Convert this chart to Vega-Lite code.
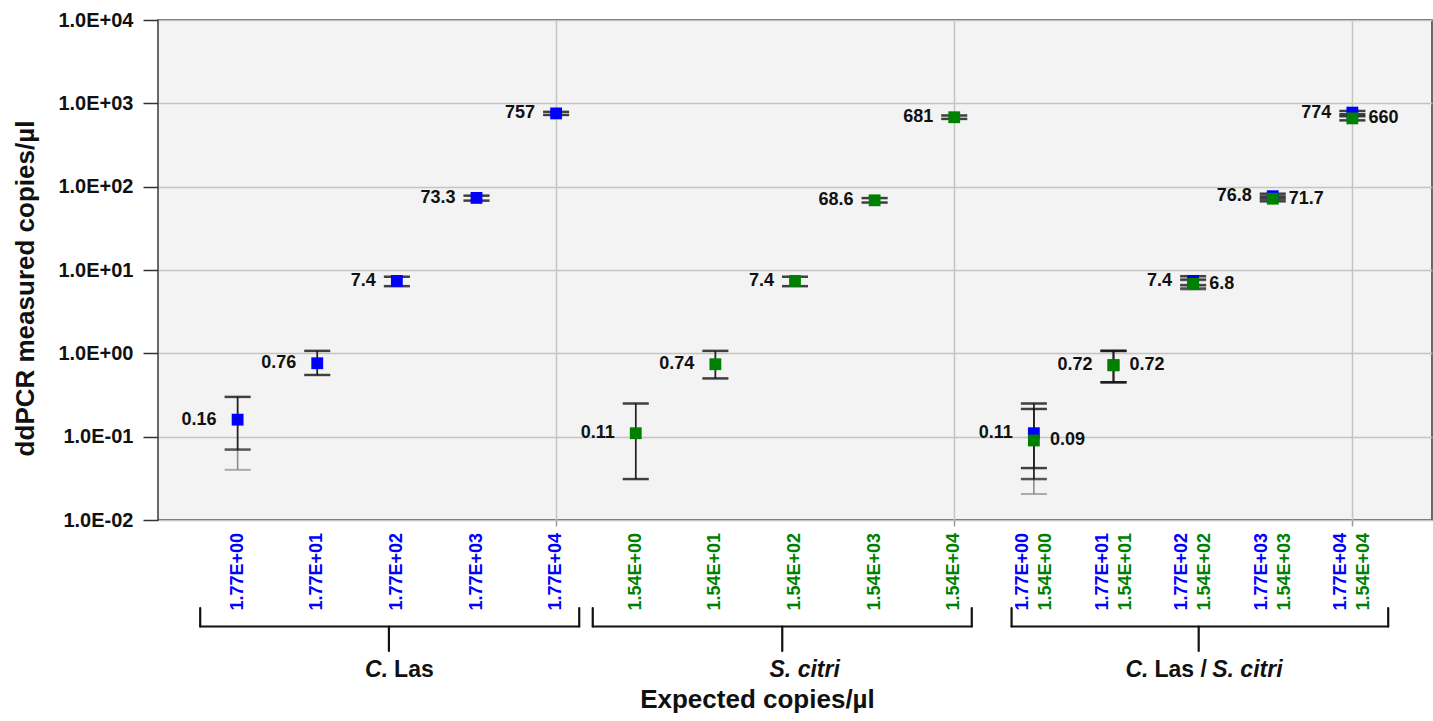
{
  "$schema": "https://vega.github.io/schema/vega-lite/v6.json",
  "autosize": {"type": "none"},
  "padding": {"left": 158, "top": 20, "right": 1, "bottom": 201},
  "background": "white",
  "width": 1274,
  "height": 500,
  "config": {"font": "Liberation Sans"},
  "view": {"fill": "#f3f3f3", "stroke": "#3a3a3a", "strokeWidth": 1.5},
  "datasets": {
    "measures": [
      {"x": 1, "target": "C. Las", "group": "C. Las", "value": 0.16, "lo": 0.07, "hi": 0.30, "tlo": 0.04, "thi": 0.30},
      {"x": 2, "target": "C. Las", "group": "C. Las", "value": 0.76, "lo": 0.55, "hi": 1.07, "tlo": 0.55, "thi": 1.07},
      {"x": 3, "target": "C. Las", "group": "C. Las", "value": 7.4, "lo": 6.4, "hi": 8.3, "tlo": 6.4, "thi": 8.3},
      {"x": 4, "target": "C. Las", "group": "C. Las", "value": 73.3, "lo": 68, "hi": 78, "tlo": 68, "thi": 78},
      {"x": 5, "target": "C. Las", "group": "C. Las", "value": 757, "lo": 725, "hi": 790, "tlo": 725, "thi": 790},
      {"x": 11, "target": "C. Las", "group": "mix", "value": 0.11, "lo": 0.042, "hi": 0.25, "tlo": 0.042, "thi": 0.25},
      {"x": 12, "target": "C. Las", "group": "mix", "value": 0.72, "lo": 0.45, "hi": 1.07, "tlo": 0.45, "thi": 1.07},
      {"x": 13, "target": "C. Las", "group": "mix", "value": 7.4, "lo": 6.6, "hi": 8.4, "tlo": 6.5, "thi": 8.5},
      {"x": 14, "target": "C. Las", "group": "mix", "value": 76.8, "lo": 72, "hi": 82, "tlo": 71, "thi": 83},
      {"x": 15, "target": "C. Las", "group": "mix", "value": 774, "lo": 740, "hi": 810, "tlo": 740, "thi": 810},
      {"x": 6, "target": "S. citri", "group": "S. citri", "value": 0.11, "lo": 0.031, "hi": 0.25, "tlo": 0.031, "thi": 0.25},
      {"x": 7, "target": "S. citri", "group": "S. citri", "value": 0.74, "lo": 0.50, "hi": 1.07, "tlo": 0.50, "thi": 1.07},
      {"x": 8, "target": "S. citri", "group": "S. citri", "value": 7.4, "lo": 6.4, "hi": 8.3, "tlo": 6.4, "thi": 8.3},
      {"x": 9, "target": "S. citri", "group": "S. citri", "value": 68.6, "lo": 64.5, "hi": 73, "tlo": 64.5, "thi": 73},
      {"x": 10, "target": "S. citri", "group": "S. citri", "value": 681, "lo": 650, "hi": 715, "tlo": 650, "thi": 715},
      {"x": 11, "target": "S. citri", "group": "mix", "value": 0.09, "lo": 0.031, "hi": 0.215, "tlo": 0.0205, "thi": 0.215},
      {"x": 12, "target": "S. citri", "group": "mix", "value": 0.72, "lo": 0.45, "hi": 1.07, "tlo": 0.45, "thi": 1.07},
      {"x": 13, "target": "S. citri", "group": "mix", "value": 6.8, "lo": 6.0, "hi": 7.6, "tlo": 5.8, "thi": 7.8},
      {"x": 14, "target": "S. citri", "group": "mix", "value": 71.7, "lo": 67, "hi": 76, "tlo": 66, "thi": 77},
      {"x": 15, "target": "S. citri", "group": "mix", "value": 660, "lo": 625, "hi": 700, "tlo": 625, "thi": 700}
    ],
    "inputs": [
      {"x": 1, "target": "C. Las", "group": "C. Las", "label": "1.77E+00"},
      {"x": 2, "target": "C. Las", "group": "C. Las", "label": "1.77E+01"},
      {"x": 3, "target": "C. Las", "group": "C. Las", "label": "1.77E+02"},
      {"x": 4, "target": "C. Las", "group": "C. Las", "label": "1.77E+03"},
      {"x": 5, "target": "C. Las", "group": "C. Las", "label": "1.77E+04"},
      {"x": 6, "target": "S. citri", "group": "S. citri", "label": "1.54E+00"},
      {"x": 7, "target": "S. citri", "group": "S. citri", "label": "1.54E+01"},
      {"x": 8, "target": "S. citri", "group": "S. citri", "label": "1.54E+02"},
      {"x": 9, "target": "S. citri", "group": "S. citri", "label": "1.54E+03"},
      {"x": 10, "target": "S. citri", "group": "S. citri", "label": "1.54E+04"},
      {"x": 11, "target": "C. Las", "group": "mix", "label": "1.77E+00"},
      {"x": 12, "target": "C. Las", "group": "mix", "label": "1.77E+01"},
      {"x": 13, "target": "C. Las", "group": "mix", "label": "1.77E+02"},
      {"x": 14, "target": "C. Las", "group": "mix", "label": "1.77E+03"},
      {"x": 15, "target": "C. Las", "group": "mix", "label": "1.77E+04"},
      {"x": 11, "target": "S. citri", "group": "mix", "label": "1.54E+00"},
      {"x": 12, "target": "S. citri", "group": "mix", "label": "1.54E+01"},
      {"x": 13, "target": "S. citri", "group": "mix", "label": "1.54E+02"},
      {"x": 14, "target": "S. citri", "group": "mix", "label": "1.54E+03"},
      {"x": 15, "target": "S. citri", "group": "mix", "label": "1.54E+04"}
    ],
    "groups": [
      {"group": "C. Las", "start": 0.53, "end": 5.29, "center": 2.9},
      {"group": "S. citri", "start": 5.46, "end": 10.22, "center": 7.84},
      {"group": "C. Las / S. citri", "start": 10.72, "end": 15.45, "center": 13.07}
    ],
    "grouptitles": [
      {"part": "C.", "taxon": true, "at": 2.60},
      {"part": "Las", "taxon": false, "at": 2.965},
      {"part": "S. citri", "taxon": true, "at": 7.68},
      {"part": "C.", "taxon": true, "at": 12.15},
      {"part": "Las /", "taxon": false, "at": 12.515},
      {"part": "S. citri", "taxon": true, "at": 13.24}
    ]
  },
  "layer": [
    {
      "data": {"name": "measures"},
      "mark": {"type": "rule", "color": "#8c8c8c", "strokeWidth": 1.6},
      "encoding": {
        "x": {"field": "x", "type": "quantitative", "scale": {"domain": [0, 16], "nice": false, "zero": false},
          "axis": {"values": [5, 10, 15], "labels": false, "domain": false, "grid": true, "gridColor": "#c4c4c4", "gridWidth": 1.5, "tickColor": "#9a9a9a", "tickSize": 6, "tickWidth": 1.5,
            "title": "Expected copies/µl", "titleFont": "Liberation Sans", "titleFontSize": 26, "titleFontWeight": "bold", "titleColor": "#111111", "titleX": 599, "titleY": 179, "titleAlign": "center", "titleBaseline": "middle"}},
        "y": {"field": "tlo", "type": "quantitative", "scale": {"type": "log", "domain": [0.01, 10000], "nice": false},
          "axis": {"title": "ddPCR measured copies/µl", "values": [0.01, 0.1, 1, 10, 100, 1000, 10000],
            "labelExpr": "'1.0E' + (datum.value < 1 ? '-' : '+') + '0' + round(abs(log(datum.value) / LN10))",
            "labelFont": "Liberation Sans", "labelFontWeight": "bold", "labelFontSize": 20, "labelColor": "#111111", "labelPadding": 10,
            "tickSize": 15, "tickColor": "#333333", "tickWidth": 1.5, "domain": false, "grid": true, "gridColor": "#c4c4c4", "gridWidth": 1.5,
            "titleFont": "Liberation Sans", "titleFontWeight": "bold", "titleFontSize": 26, "titleColor": "#111111",
            "titleX": -133, "titleY": 268, "titleAngle": 270, "titleAlign": "center", "titleBaseline": "middle"}},
        "y2": {"field": "thi"}
      }
    },
    {
      "data": {"name": "measures"},
      "mark": {"type": "tick", "orient": "horizontal", "color": "#8c8c8c", "size": 26, "thickness": 2},
      "encoding": {
        "x": {"field": "x", "type": "quantitative"},
        "y": {"field": "tlo", "type": "quantitative"}
      }
    },
    {
      "data": {"name": "measures"},
      "mark": {"type": "tick", "orient": "horizontal", "color": "#8c8c8c", "size": 26, "thickness": 2},
      "encoding": {
        "x": {"field": "x", "type": "quantitative"},
        "y": {"field": "thi", "type": "quantitative"}
      }
    },
    {
      "data": {"name": "measures"},
      "mark": {"type": "rule", "color": "#222222", "strokeWidth": 1.6},
      "encoding": {
        "x": {"field": "x", "type": "quantitative"},
        "y": {"field": "lo", "type": "quantitative"},
        "y2": {"field": "hi"}
      }
    },
    {
      "data": {"name": "measures"},
      "mark": {"type": "tick", "orient": "horizontal", "color": "#111111", "size": 26, "thickness": 2.5},
      "encoding": {
        "x": {"field": "x", "type": "quantitative"},
        "y": {"field": "lo", "type": "quantitative"}
      }
    },
    {
      "data": {"name": "measures"},
      "mark": {"type": "tick", "orient": "horizontal", "color": "#111111", "size": 26, "thickness": 2.5},
      "encoding": {
        "x": {"field": "x", "type": "quantitative"},
        "y": {"field": "hi", "type": "quantitative"}
      }
    },
    {
      "data": {"name": "measures"},
      "mark": {"type": "point", "shape": "square", "filled": true, "size": 140, "opacity": 1},
      "encoding": {
        "x": {"field": "x", "type": "quantitative"},
        "y": {"field": "value", "type": "quantitative"},
        "color": {"field": "target", "type": "nominal", "scale": {"domain": ["C. Las", "S. citri"], "range": ["#0000ff", "#008000"]}, "legend": null}
      }
    },
    {
      "data": {"name": "measures"},
      "transform": [{"filter": "!(datum.target == 'S. citri' && datum.group == 'mix')"}],
      "mark": {"type": "text", "align": "right", "baseline": "middle", "dx": -21, "font": "Liberation Sans", "fontWeight": "bold", "fontSize": 18, "color": "#111111"},
      "encoding": {
        "x": {"field": "x", "type": "quantitative"},
        "y": {"field": "value", "type": "quantitative"},
        "text": {"field": "value", "type": "nominal"}
      }
    },
    {
      "data": {"name": "measures"},
      "transform": [{"filter": "datum.target == 'S. citri' && datum.group == 'mix'"}],
      "mark": {"type": "text", "align": "left", "baseline": "middle", "dx": 16, "font": "Liberation Sans", "fontWeight": "bold", "fontSize": 18, "color": "#111111"},
      "encoding": {
        "x": {"field": "x", "type": "quantitative"},
        "y": {"field": "value", "type": "quantitative"},
        "text": {"field": "value", "type": "nominal"}
      }
    },
    {
      "data": {"name": "inputs"},
      "transform": [{"filter": "datum.group != 'mix'"}],
      "mark": {"type": "text", "angle": 270, "align": "right", "baseline": "middle", "fontSize": 18, "fontWeight": "bold", "font": "Liberation Sans"},
      "encoding": {
        "x": {"field": "x", "type": "quantitative"},
        "y": {"datum": 0.006982, "type": "quantitative"},
        "text": {"field": "label"},
        "color": {"field": "target", "type": "nominal", "legend": null}
      }
    },
    {
      "data": {"name": "inputs"},
      "transform": [{"filter": "datum.group == 'mix' && datum.target == 'C. Las'"}],
      "mark": {"type": "text", "angle": 270, "align": "right", "baseline": "middle", "dy": -11, "fontSize": 18, "fontWeight": "bold", "font": "Liberation Sans"},
      "encoding": {
        "x": {"field": "x", "type": "quantitative"},
        "y": {"datum": 0.006982, "type": "quantitative"},
        "text": {"field": "label"},
        "color": {"field": "target", "type": "nominal", "legend": null}
      }
    },
    {
      "data": {"name": "inputs"},
      "transform": [{"filter": "datum.group == 'mix' && datum.target == 'S. citri'"}],
      "mark": {"type": "text", "angle": 270, "align": "right", "baseline": "middle", "dy": 12, "fontSize": 18, "fontWeight": "bold", "font": "Liberation Sans"},
      "encoding": {
        "x": {"field": "x", "type": "quantitative"},
        "y": {"datum": 0.006982, "type": "quantitative"},
        "text": {"field": "label"},
        "color": {"field": "target", "type": "nominal", "legend": null}
      }
    },
    {
      "data": {"name": "groups"},
      "mark": {"type": "rule", "color": "#111111", "strokeWidth": 2.2, "strokeCap": "round"},
      "encoding": {
        "x": {"field": "start", "type": "quantitative"},
        "x2": {"field": "end"},
        "y": {"datum": 0.000527, "type": "quantitative"}
      }
    },
    {
      "data": {"name": "groups"},
      "mark": {"type": "rule", "color": "#111111", "strokeWidth": 2.2, "strokeCap": "round"},
      "encoding": {
        "x": {"field": "start", "type": "quantitative"},
        "y": {"datum": 0.000879, "type": "quantitative"},
        "y2": {"datum": 0.000527}
      }
    },
    {
      "data": {"name": "groups"},
      "mark": {"type": "rule", "color": "#111111", "strokeWidth": 2.2, "strokeCap": "round"},
      "encoding": {
        "x": {"field": "end", "type": "quantitative"},
        "y": {"datum": 0.000879, "type": "quantitative"},
        "y2": {"datum": 0.000527}
      }
    },
    {
      "data": {"name": "groups"},
      "mark": {"type": "rule", "color": "#111111", "strokeWidth": 2.2, "strokeCap": "round"},
      "encoding": {
        "x": {"field": "center", "type": "quantitative"},
        "y": {"datum": 0.000527, "type": "quantitative"},
        "y2": {"datum": 0.000268}
      }
    },
    {
      "data": {"name": "grouptitles"},
      "transform": [{"filter": "datum.taxon"}],
      "mark": {"type": "text", "align": "left", "baseline": "middle", "fontSize": 23, "fontWeight": "bold", "fontStyle": "italic", "font": "Liberation Sans", "color": "#111111"},
      "encoding": {
        "x": {"field": "at", "type": "quantitative"},
        "y": {"datum": 0.000158, "type": "quantitative"},
        "text": {"field": "part"}
      }
    },
    {
      "data": {"name": "grouptitles"},
      "transform": [{"filter": "!datum.taxon"}],
      "mark": {"type": "text", "align": "left", "baseline": "middle", "fontSize": 23, "fontWeight": "bold", "font": "Liberation Sans", "color": "#111111"},
      "encoding": {
        "x": {"field": "at", "type": "quantitative"},
        "y": {"datum": 0.000158, "type": "quantitative"},
        "text": {"field": "part"}
      }
    }
  ]
}
